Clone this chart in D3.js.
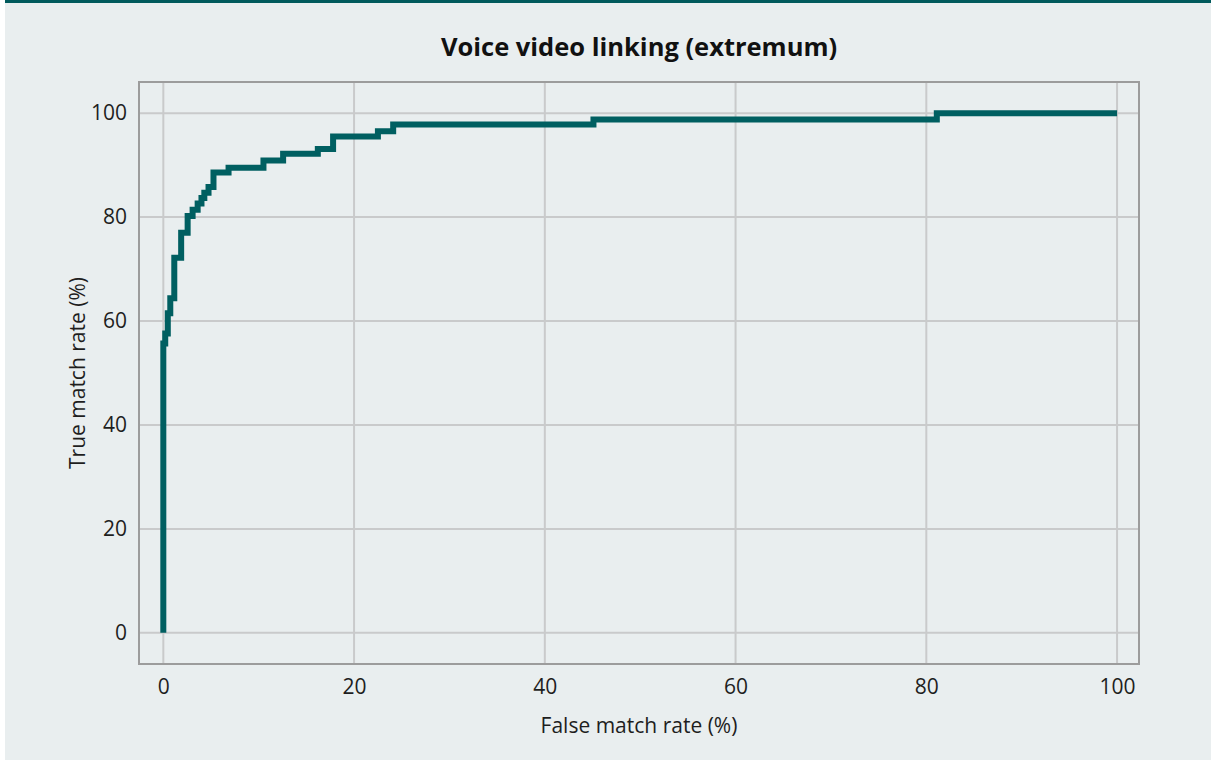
<!DOCTYPE html>
<html>
<head>
<meta charset="utf-8">
<script src="https://cdn.jsdelivr.net/npm/d3@7"></script>
<style>
  html, body { margin: 0; padding: 0; background: #ffffff; }
  svg { display: block; }
</style>
</head>
<body>
<svg id="chart" width="1211" height="760"></svg>
<script>
// ROC corner points: false match rate (%) and true match rate (%)
const falseMatchRate = [0, 0, 0.2, 0.47, 0.73, 1.15, 1.87, 2.55, 3.07, 3.6, 4.0, 4.3, 4.74, 5.26, 6.84, 10.5, 12.56, 16.2, 17.8, 22.5, 24.1, 45.1, 81.1, 100];
const trueMatchRate  = [0, 55.7, 57.6, 61.5, 64.4, 72.2, 77.0, 80.2, 81.4, 82.6, 83.7, 84.7, 85.8, 88.6, 89.5, 90.9, 92.2, 93.1, 95.5, 96.5, 97.8, 98.8, 100, 100];

const xTicks = [0, 20, 40, 60, 80, 100];
const yTicks = [0, 20, 40, 60, 80, 100];

const titleText = "Voice video linking (extremum)";
const xLabel = "False match rate (%)";
const yLabel = "True match rate (%)";

const W = 1211, H = 760;
const plot = { left: 139, top: 82, right: 1139, bottom: 664 };
const font = "'Open Sans', 'Noto Sans', sans-serif";

const svg = d3.select("#chart");

// page background and top rule
svg.append("rect").attr("x", 5).attr("y", 0).attr("width", W - 5).attr("height", H).attr("fill", "#e9eeef");
svg.append("rect").attr("x", 5).attr("y", 0).attr("width", W - 5).attr("height", 3).attr("fill", "#005a5c");

const x = d3.scaleLinear().domain([-2.55, 102.3]).range([plot.left, plot.right]);
const y = d3.scaleLinear().domain([-6, 106]).range([plot.bottom, plot.top]);

// gridlines
const grid = svg.append("g").attr("stroke", "#c9cacb").attr("stroke-width", 2);
grid.selectAll("line.v").data(xTicks).join("line")
  .attr("x1", d => x(d)).attr("x2", d => x(d))
  .attr("y1", plot.top).attr("y2", plot.bottom);
grid.selectAll("line.h").data(yTicks).join("line")
  .attr("y1", d => y(d)).attr("y2", d => y(d))
  .attr("x1", plot.left).attr("x2", plot.right);

// plot frame
svg.append("rect")
  .attr("x", plot.left).attr("y", plot.top)
  .attr("width", plot.right - plot.left).attr("height", plot.bottom - plot.top)
  .attr("fill", "none").attr("stroke", "#9c9c9c").attr("stroke-width", 2);

// axes (labels only)
const xAxis = d3.axisBottom(x).tickValues(xTicks).tickSize(0).tickPadding(15).tickFormat(d3.format("d"));
const yAxis = d3.axisLeft(y).tickValues(yTicks).tickSize(0).tickPadding(12).tickFormat(d3.format("d"));

const gx = svg.append("g").attr("transform", `translate(0,${plot.bottom})`).call(xAxis);
const gy = svg.append("g").attr("transform", `translate(${plot.left},0)`).call(yAxis);
[gx, gy].forEach(g => {
  g.select(".domain").remove();
  g.selectAll("text").attr("font-family", font).attr("font-size", 21).attr("fill", "#1e1e1e");
});

// ROC step line
const pts = falseMatchRate.map((d, i) => [d, trueMatchRate[i]]);
const line = d3.line().x(d => x(d[0])).y(d => y(d[1])).curve(d3.curveStepAfter);
svg.append("path")
  .datum(pts)
  .attr("d", line)
  .attr("fill", "none")
  .attr("stroke", "#005f61")
  .attr("stroke-width", 6)
  .attr("stroke-linejoin", "miter")
  .attr("stroke-linecap", "butt");

// titles
svg.append("text")
  .attr("x", (plot.left + plot.right) / 2).attr("y", 56)
  .attr("text-anchor", "middle")
  .attr("font-family", font).attr("font-weight", "bold").attr("font-size", 25.5)
  .attr("fill", "#111").text(titleText);

svg.append("text")
  .attr("x", (plot.left + plot.right) / 2).attr("y", 733)
  .attr("text-anchor", "middle")
  .attr("font-family", font).attr("font-size", 21)
  .attr("fill", "#1e1e1e").text(xLabel);

svg.append("text")
  .attr("transform", `translate(85,${(plot.top + plot.bottom) / 2}) rotate(-90)`)
  .attr("text-anchor", "middle")
  .attr("font-family", font).attr("font-size", 21)
  .attr("fill", "#1e1e1e").text(yLabel);
</script>
</body>
</html>
